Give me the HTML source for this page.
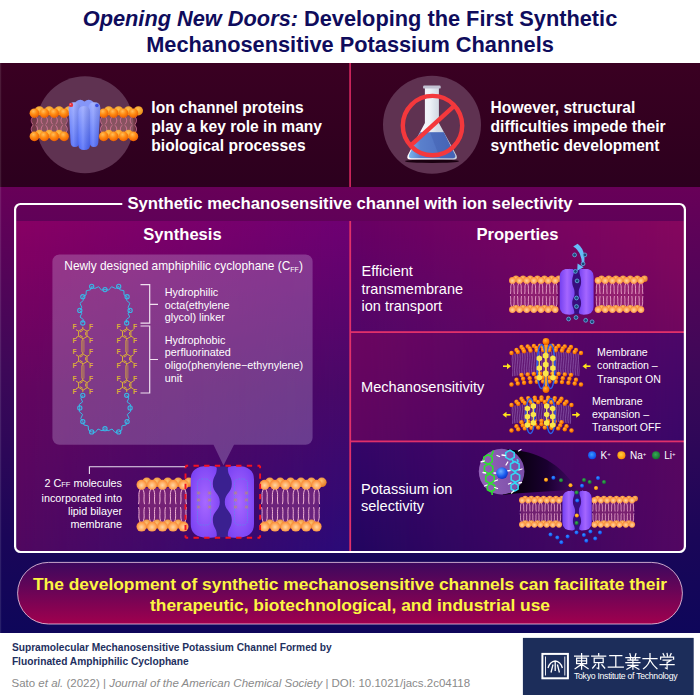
<!DOCTYPE html>
<html><head><meta charset="utf-8"><style>
*{margin:0;padding:0;box-sizing:border-box}
html,body{width:700px;height:700px;overflow:hidden;background:#fff}
body{position:relative;font-family:"Liberation Sans",sans-serif}
svg.bg{position:absolute;left:0;top:0}
.t{position:absolute;white-space:nowrap;color:#fff}
.title{left:0;width:700px;text-align:center;color:#0f0c5c;font-weight:bold;font-size:21.78px;}
.b{font-weight:bold}
</style></head><body>
<svg class="bg" width="700" height="700" viewBox="0 0 700 700">
<defs>
<radialGradient id="hg" cx="0.5" cy="0.55" r="0.65">
 <stop offset="0" stop-color="#ffd6a4"/><stop offset="0.55" stop-color="#ffa658"/><stop offset="1" stop-color="#f67a22"/></radialGradient>
<radialGradient id="hb" cx="0.45" cy="0.35" r="0.7">
 <stop offset="0" stop-color="#ffc070"/><stop offset="1" stop-color="#e07018"/></radialGradient>
<radialGradient id="hgT" cx="0.4" cy="0.3" r="0.75">
 <stop offset="0" stop-color="#ffbe5a"/><stop offset="0.45" stop-color="#ff8c14"/><stop offset="1" stop-color="#e85800"/></radialGradient>
<radialGradient id="hbT" cx="0.45" cy="0.35" r="0.7">
 <stop offset="0" stop-color="#ffc050"/><stop offset="1" stop-color="#e88a10"/></radialGradient>
<radialGradient id="hg2" cx="0.4" cy="0.35" r="0.7">
 <stop offset="0" stop-color="#ffb040"/><stop offset="0.6" stop-color="#ff7a00"/><stop offset="1" stop-color="#e05a00"/></radialGradient>
<linearGradient id="bgmid" x1="0" y1="0" x2="0" y2="1">
 <stop offset="0" stop-color="#680058"/><stop offset="0.4" stop-color="#3e0858"/><stop offset="0.79" stop-color="#1a0658"/><stop offset="1" stop-color="#0e065a"/></linearGradient>
<linearGradient id="pl" x1="0" y1="0" x2="1" y2="1">
 <stop offset="0" stop-color="#8e006a"/><stop offset="0.5" stop-color="#6a0a78"/><stop offset="1" stop-color="#3a0a88"/></linearGradient>
<linearGradient id="pr1" x1="0" y1="1" x2="1" y2="0">
 <stop offset="0" stop-color="#5a0a7a"/><stop offset="1" stop-color="#920a5e"/></linearGradient>
<linearGradient id="pr2" x1="0" y1="1" x2="1" y2="0">
 <stop offset="0" stop-color="#3e0a80"/><stop offset="1" stop-color="#6a0a70"/></linearGradient>
<linearGradient id="pr3" x1="0" y1="1" x2="1" y2="0">
 <stop offset="0" stop-color="#300a80"/><stop offset="1" stop-color="#760a62"/></linearGradient>
<linearGradient id="pill" x1="0" y1="0" x2="0" y2="1">
 <stop offset="0" stop-color="#3c085e"/><stop offset="1" stop-color="#a0004e"/></linearGradient>
<linearGradient id="chan" x1="0" y1="0" x2="1" y2="0">
 <stop offset="0" stop-color="#6a3af0"/><stop offset="0.5" stop-color="#8a55ff"/><stop offset="1" stop-color="#6a3af0"/></linearGradient>
<linearGradient id="prot" x1="0" y1="0" x2="0" y2="1">
 <stop offset="0" stop-color="#9aa8ff"/><stop offset="0.6" stop-color="#5a6cf8"/><stop offset="1" stop-color="#4a5af0"/></linearGradient>
</defs>
<linearGradient id="dk" x1="0" y1="0" x2="0" y2="1"><stop offset="0" stop-color="#3a0022"/><stop offset="1" stop-color="#2c001e"/></linearGradient><rect x="0" y="63" width="700" height="124" fill="url(#dk)"/>
<rect x="349.2" y="63" width="1.8" height="124" fill="#c8245a"/>
<rect x="0" y="187" width="700" height="446" fill="url(#bgmid)"/>
<defs><linearGradient id="h01" x1="0" y1="0" x2="1" y2="0"><stop offset="0" stop-color="#000"/><stop offset="1" stop-color="#fff"/></linearGradient><mask id="mx" maskContentUnits="objectBoundingBox"><rect width="1" height="1" fill="url(#h01)"/></mask></defs>
<defs><linearGradient id="bl1" x1="0" y1="0" x2="0" y2="1"><stop offset="0.000" stop-color="#880064"/><stop offset="0.500" stop-color="#640660"/><stop offset="1.000" stop-color="#500860"/></linearGradient><linearGradient id="br1" x1="0" y1="0" x2="0" y2="1"><stop offset="0.000" stop-color="#6e0072"/><stop offset="0.500" stop-color="#480868"/><stop offset="1.000" stop-color="#2a0a78"/></linearGradient></defs>
<rect x="16.3" y="221" width="333" height="330" fill="url(#bl1)"/>
<rect x="16.3" y="221" width="333" height="330" fill="url(#br1)" mask="url(#mx)"/>
<defs><linearGradient id="bl2" x1="0" y1="0" x2="0" y2="1"><stop offset="0.000" stop-color="#680064"/><stop offset="1.000" stop-color="#520668"/></linearGradient><linearGradient id="br2" x1="0" y1="0" x2="0" y2="1"><stop offset="0.000" stop-color="#86065e"/><stop offset="1.000" stop-color="#70065e"/></linearGradient></defs>
<rect x="351" y="221" width="333" height="111" fill="url(#bl2)"/>
<rect x="351" y="221" width="333" height="111" fill="url(#br2)" mask="url(#mx)"/>
<defs><linearGradient id="bl3" x1="0" y1="0" x2="0" y2="1"><stop offset="0.000" stop-color="#6c0660"/><stop offset="1.000" stop-color="#5e0660"/></linearGradient><linearGradient id="br3" x1="0" y1="0" x2="0" y2="1"><stop offset="0.000" stop-color="#4c0668"/><stop offset="1.000" stop-color="#3a0668"/></linearGradient></defs>
<rect x="351" y="333" width="333" height="108" fill="url(#bl3)"/>
<rect x="351" y="333" width="333" height="108" fill="url(#br3)" mask="url(#mx)"/>
<defs><linearGradient id="bl4" x1="0" y1="0" x2="0" y2="1"><stop offset="0.000" stop-color="#340668"/><stop offset="1.000" stop-color="#220660"/></linearGradient><linearGradient id="br4" x1="0" y1="0" x2="0" y2="1"><stop offset="0.000" stop-color="#580660"/><stop offset="1.000" stop-color="#520662"/></linearGradient></defs>
<rect x="351" y="442" width="333" height="109" fill="url(#bl4)"/>
<rect x="351" y="442" width="333" height="109" fill="url(#br4)" mask="url(#mx)"/>
<rect x="349.3" y="221" width="1.8" height="330" fill="#e0306a"/>
<rect x="351" y="331.2" width="333" height="1.8" fill="#e0306a"/>
<rect x="351" y="440.5" width="333" height="1.8" fill="#e0306a"/>
<path d="M122.3 204H20.6A5.5 5.5 0 0 0 15.1 209.5V546.5A5.5 5.5 0 0 0 20.6 552H679.4A5.5 5.5 0 0 0 684.9 546.5V209.5A5.5 5.5 0 0 0 679.4 204H578.6" fill="none" stroke="#fff" stroke-width="2.2"/>
<rect x="17.6" y="562.4" width="664.8" height="61.6" rx="30.8" fill="url(#pill)" stroke="rgba(255,220,240,0.75)" stroke-width="1"/>
<circle cx="85" cy="124.8" r="48.5" fill="#5f3251"/>
<rect x="32" y="116.1" width="34.5" height="17.4" fill="rgba(185,125,115,0.45)"/>
<rect x="101.3" y="116.1" width="34.5" height="17.4" fill="rgba(185,125,115,0.45)"/>
<path d="M33 116.6C30.7 118.9 30.7 122 33 124.3M35.8 116.6C38.1 118.9 38.1 122 35.8 124.3M33 125.3C30.7 127.6 30.7 130.7 33 133M35.8 125.3C38.1 127.6 38.1 130.7 35.8 133M42.9 116.6C40.6 118.9 40.6 122 42.9 124.3M45.7 116.6C48 118.9 48 122 45.7 124.3M42.9 125.3C40.6 127.6 40.6 130.7 42.9 133M45.7 125.3C48 127.6 48 130.7 45.7 133M52.8 116.6C50.5 118.9 50.5 122 52.8 124.3M55.6 116.6C57.9 118.9 57.9 122 55.6 124.3M52.8 125.3C50.5 127.6 50.5 130.7 52.8 133M55.6 125.3C57.9 127.6 57.9 130.7 55.6 133M62.7 116.6C60.4 118.9 60.4 122 62.7 124.3M65.5 116.6C67.8 118.9 67.8 122 65.5 124.3M62.7 125.3C60.4 127.6 60.4 130.7 62.7 133M65.5 125.3C67.8 127.6 67.8 130.7 65.5 133M102.3 116.6C100 118.9 100 122 102.3 124.3M105.1 116.6C107.4 118.9 107.4 122 105.1 124.3M102.3 125.3C100 127.6 100 130.7 102.3 133M105.1 125.3C107.4 127.6 107.4 130.7 105.1 133M112.2 116.6C109.9 118.9 109.9 122 112.2 124.3M115 116.6C117.3 118.9 117.3 122 115 124.3M112.2 125.3C109.9 127.6 109.9 130.7 112.2 133M115 125.3C117.3 127.6 117.3 130.7 115 133M122.1 116.6C119.8 118.9 119.8 122 122.1 124.3M124.9 116.6C127.2 118.9 127.2 122 124.9 124.3M122.1 125.3C119.8 127.6 119.8 130.7 122.1 133M124.9 125.3C127.2 127.6 127.2 130.7 124.9 133M132 116.6C129.7 118.9 129.7 122 132 124.3M134.8 116.6C137.1 118.9 137.1 122 134.8 124.3M132 125.3C129.7 127.6 129.7 130.7 132 133M134.8 125.3C137.1 127.6 137.1 130.7 134.8 133" fill="none" stroke="#e07aa0" stroke-width="0.85" opacity="0.95"/>
<circle cx="39.4" cy="110.8" r="4.6" fill="url(#hbT)"/>
<circle cx="49.2" cy="110.8" r="4.6" fill="url(#hbT)"/>
<circle cx="59.1" cy="110.8" r="4.6" fill="url(#hbT)"/>
<circle cx="69" cy="110.8" r="4.6" fill="url(#hbT)"/>
<circle cx="108.7" cy="110.8" r="4.6" fill="url(#hbT)"/>
<circle cx="118.6" cy="110.8" r="4.6" fill="url(#hbT)"/>
<circle cx="128.5" cy="110.8" r="4.6" fill="url(#hbT)"/>
<circle cx="138.4" cy="110.8" r="4.6" fill="url(#hbT)"/>
<circle cx="39.4" cy="134" r="4.3" fill="url(#hbT)"/>
<circle cx="49.2" cy="134" r="4.3" fill="url(#hbT)"/>
<circle cx="59.1" cy="134" r="4.3" fill="url(#hbT)"/>
<circle cx="108.7" cy="134" r="4.3" fill="url(#hbT)"/>
<circle cx="118.6" cy="134" r="4.3" fill="url(#hbT)"/>
<circle cx="128.5" cy="134" r="4.3" fill="url(#hbT)"/>
<circle cx="34.4" cy="113.2" r="4.8" fill="url(#hgT)"/>
<circle cx="44.3" cy="113.2" r="4.8" fill="url(#hgT)"/>
<circle cx="54.2" cy="113.2" r="4.8" fill="url(#hgT)"/>
<circle cx="64.1" cy="113.2" r="4.8" fill="url(#hgT)"/>
<circle cx="103.7" cy="113.2" r="4.8" fill="url(#hgT)"/>
<circle cx="113.6" cy="113.2" r="4.8" fill="url(#hgT)"/>
<circle cx="123.5" cy="113.2" r="4.8" fill="url(#hgT)"/>
<circle cx="133.4" cy="113.2" r="4.8" fill="url(#hgT)"/>
<circle cx="34.4" cy="136.4" r="4.8" fill="url(#hgT)"/>
<circle cx="44.3" cy="136.4" r="4.8" fill="url(#hgT)"/>
<circle cx="54.2" cy="136.4" r="4.8" fill="url(#hgT)"/>
<circle cx="64.1" cy="136.4" r="4.8" fill="url(#hgT)"/>
<circle cx="103.7" cy="136.4" r="4.8" fill="url(#hgT)"/>
<circle cx="113.6" cy="136.4" r="4.8" fill="url(#hgT)"/>
<circle cx="123.5" cy="136.4" r="4.8" fill="url(#hgT)"/>
<circle cx="133.4" cy="136.4" r="4.8" fill="url(#hgT)"/>
<defs><linearGradient id="pv" x1="0" y1="0" x2="0" y2="1"><stop offset="0" stop-color="#94a4ff"/><stop offset="0.55" stop-color="#6a82fb"/><stop offset="1" stop-color="#4a66f8"/></linearGradient><linearGradient id="ph" x1="0" y1="0" x2="1" y2="0"><stop offset="0" stop-color="#ffffff" stop-opacity="0"/><stop offset="0.4" stop-color="#ffffff" stop-opacity="0.18"/><stop offset="1" stop-color="#000040" stop-opacity="0.12"/></linearGradient></defs>
<rect x="74.5" y="99.8" width="11.5" height="40" rx="5.7" fill="#8596f8"/>
<rect x="83" y="99.8" width="11.5" height="40" rx="5.7" fill="#8596f8"/>
<path d="M68.6 108Q68.6 102.3 74.5 102.3Q80.5 102.3 80.5 108L79.2 142.5Q79 147 74.9 147Q71 147 70.6 142.5Z" fill="url(#pv)"/>
<path d="M68.6 108Q68.6 102.3 74.5 102.3Q80.5 102.3 80.5 108L79.2 142.5Q79 147 74.9 147Q71 147 70.6 142.5Z" fill="url(#ph)"/>
<path d="M100.3 108Q100.3 102.3 94.4 102.3Q88.4 102.3 88.4 108L89.7 142.5Q89.9 147 94 147Q97.9 147 98.3 142.5Z" fill="url(#pv)"/>
<path d="M100.3 108Q100.3 102.3 94.4 102.3Q88.4 102.3 88.4 108L89.7 142.5Q89.9 147 94 147Q97.9 147 98.3 142.5Z" fill="url(#ph)"/>
<path d="M78.3 112Q78.3 106 84.2 106Q90.1 106 90.1 112L90.1 144.5Q90.1 150 84.2 150Q78.3 150 78.3 144.5Z" fill="url(#pv)"/>
<path d="M78.3 112Q78.3 106 84.2 106Q90.1 106 90.1 112L90.1 144.5Q90.1 150 84.2 150Q78.3 150 78.3 144.5Z" fill="url(#ph)"/>
<circle cx="71" cy="104.9" r="2.2" fill="#e8343c"/><circle cx="70.4" cy="104.3" r="0.8" fill="#ff8a8a"/>
<circle cx="96.9" cy="105.5" r="1.8" fill="#3a4ce0"/>
<circle cx="432" cy="124.8" r="49" fill="#5f3251"/>
<ellipse cx="432" cy="161.2" rx="27" ry="1.8" fill="#1a0010"/>
<defs><linearGradient id="glass" x1="0" y1="0" x2="1" y2="0"><stop offset="0" stop-color="#ffffff"/><stop offset="0.45" stop-color="#eef2f8"/><stop offset="0.6" stop-color="#d6dce6"/><stop offset="1" stop-color="#c4ccd8"/></linearGradient><linearGradient id="liq" x1="0" y1="0" x2="1" y2="0"><stop offset="0" stop-color="#7ab4ee"/><stop offset="0.25" stop-color="#5a80cc"/><stop offset="1" stop-color="#4a68bc"/></linearGradient></defs>
<path d="M424.9 88H438.9V123L456.6 155.5Q458 159.6 453.8 159.6H410.4Q406.2 159.6 407.6 155.5L424.9 123Z" fill="url(#glass)"/>
<path d="M420 132.2H443.8L455 154.8Q456.2 158.2 452.8 158.2H411.4Q408 158.2 409.2 154.8Z" fill="url(#liq)"/>
<path d="M430 132.2H443.8L455 154.8Q456.2 158.2 452.8 158.2H440Z" fill="#3c58a8" opacity="0.35"/>
<rect x="423.1" y="85.6" width="17.6" height="3" rx="1.2" fill="#c2c2d2"/>
<circle cx="432.5" cy="125.6" r="29.7" fill="none" stroke="#f4383c" stroke-width="4.4"/>
<line x1="454.5" y1="105.6" x2="410.5" y2="145.6" stroke="#f4383c" stroke-width="4.4"/>
<rect x="0" y="63" width="1.2" height="570" fill="#ffffff" opacity="0.1"/>
<path d="M59.4 254.5H305.6A7 7 0 0 1 312.6 261.5V437.8A7 7 0 0 1 305.6 444.8H234L223.5 465.5L213.5 444.8H59.4A7 7 0 0 1 52.4 437.8V261.5A7 7 0 0 1 59.4 254.5Z" fill="rgba(232,222,255,0.245)"/>
<path d="M140.5 284.6H149.7V323.2H140.5M149.7 304.3H158" fill="none" stroke="#f0e0f0" stroke-width="1.2"/>
<path d="M140.5 326H149.7V393H140.5M149.7 359.5H158" fill="none" stroke="#f0e0f0" stroke-width="1.2"/>
<path d="M82.8 323L83.3 319.5L80 317L81.8 313.2L79.8 310.4M79.8 310.4L81.8 307.3L80 303.3L83.3 300.4L82.8 296.7M82.8 296.7L86 295L86.3 290.7L90.5 289.8L91.7 286.4M91.7 286.4L94.7 288.5L98.7 286.7L101.4 290.1L105 289.6M105 289.6L108.7 290.1L111.6 286.7L115.6 288.5L118.7 286.4M118.7 286.4L119.8 289.8L123.9 290.7L124 294.9L127.1 296.7M127.1 296.7L126.6 300.4L129.9 303.3L128.1 307.3L130.1 310.4M130.1 310.4L128 313.2L129.7 317L126.3 319.5L126.7 323" fill="none" stroke="#38b8e8" stroke-width="1" stroke-linejoin="round"/>
<circle cx="82.8" cy="323" r="2.1" fill="none" stroke="#38b8e8" stroke-width="1.1"/>
<circle cx="79.8" cy="310.4" r="2.1" fill="none" stroke="#38b8e8" stroke-width="1.1"/>
<circle cx="82.8" cy="296.7" r="2.1" fill="none" stroke="#38b8e8" stroke-width="1.1"/>
<circle cx="91.7" cy="286.4" r="2.1" fill="none" stroke="#38b8e8" stroke-width="1.1"/>
<circle cx="105" cy="289.6" r="2.1" fill="none" stroke="#38b8e8" stroke-width="1.1"/>
<circle cx="118.7" cy="286.4" r="2.1" fill="none" stroke="#38b8e8" stroke-width="1.1"/>
<circle cx="127.1" cy="296.7" r="2.1" fill="none" stroke="#38b8e8" stroke-width="1.1"/>
<circle cx="130.1" cy="310.4" r="2.1" fill="none" stroke="#38b8e8" stroke-width="1.1"/>
<circle cx="126.7" cy="323" r="2.1" fill="none" stroke="#38b8e8" stroke-width="1.1"/>
<path d="M82.8 395.3L80.8 398.1L82.6 401.9L79.3 404.4L79.8 407.9M79.8 407.9L79.3 411.6L82.6 414.5L80.8 418.5L82.8 421.6M82.8 421.6L84 425L88.2 425.9L88.5 430.2L91.7 431.9M91.7 431.9L95.3 432.4L98 429L102 430.8L105 428.7M105 428.7L108.1 430.8L112.1 429L115 432.4L118.7 431.9M118.7 431.9L121.8 430.1L121.9 425.9L126 425L127.1 421.6M127.1 421.6L129.1 418.5L127.3 414.5L130.6 411.6L130.1 407.9M130.1 407.9L130.5 404.4L127.1 401.9L128.8 398.1L126.7 395.3" fill="none" stroke="#38b8e8" stroke-width="1" stroke-linejoin="round"/>
<circle cx="82.8" cy="395.3" r="2.1" fill="none" stroke="#38b8e8" stroke-width="1.1"/>
<circle cx="79.8" cy="407.9" r="2.1" fill="none" stroke="#38b8e8" stroke-width="1.1"/>
<circle cx="82.8" cy="421.6" r="2.1" fill="none" stroke="#38b8e8" stroke-width="1.1"/>
<circle cx="91.7" cy="431.9" r="2.1" fill="none" stroke="#38b8e8" stroke-width="1.1"/>
<circle cx="105" cy="428.7" r="2.1" fill="none" stroke="#38b8e8" stroke-width="1.1"/>
<circle cx="118.7" cy="431.9" r="2.1" fill="none" stroke="#38b8e8" stroke-width="1.1"/>
<circle cx="127.1" cy="421.6" r="2.1" fill="none" stroke="#38b8e8" stroke-width="1.1"/>
<circle cx="130.1" cy="407.9" r="2.1" fill="none" stroke="#38b8e8" stroke-width="1.1"/>
<circle cx="126.7" cy="395.3" r="2.1" fill="none" stroke="#38b8e8" stroke-width="1.1"/>
<path d="M82.8 338.6L78.6 336.1L78.6 331.2L82.8 328.8L87 331.2L87 336.1ZM82.4 336.8L80.3 335.6M80.3 331.8L82.4 330.6M85.7 332.5L85.7 334.9M78.6 331.2L76.3 329.9M78.6 336.1L76.3 337.5M87 331.2L89.3 329.9M87 336.1L89.3 337.5M82.8 328.8L82.8 327.2M82.8 338.6L82.8 340.2M82.8 363.7L78.6 361.2L78.6 356.4L82.8 353.9L87 356.4L87 361.2ZM82.4 361.9L80.3 360.7M80.3 356.9L82.4 355.7M85.7 357.6L85.7 360M78.6 356.4L76.3 355M78.6 361.2L76.3 362.6M87 356.4L89.3 355M87 361.2L89.3 362.6M82.8 353.9L82.8 352.3M82.8 363.7L82.8 365.3M82.8 389.9L78.6 387.4L78.6 382.6L82.8 380.1L87 382.6L87 387.4ZM82.4 388.1L80.3 386.9M80.3 383.1L82.4 381.9M85.7 383.8L85.7 386.2M78.6 382.6L76.3 381.2M78.6 387.4L76.3 388.8M87 382.6L89.3 381.2M87 387.4L89.3 388.8M82.8 380.1L82.8 378.5M82.8 389.9L82.8 391.5" fill="none" stroke="#dcb036" stroke-width="1.0" stroke-linecap="round"/>
<path d="M81.6 340.2L81.6 352.3M82.8 340.2L82.8 352.3M84 340.2L84 352.3M81.6 365.3L81.6 378.5M82.8 365.3L82.8 378.5M84 365.3L84 378.5" fill="none" stroke="#dcb036" stroke-width="0.55"/>
<text x="74.5" y="329.3" font-size="6.6" font-weight="bold" fill="#dcb036" text-anchor="middle">F</text>
<text x="74.5" y="342.9" font-size="6.6" font-weight="bold" fill="#dcb036" text-anchor="middle">F</text>
<text x="91.1" y="329.3" font-size="6.6" font-weight="bold" fill="#dcb036" text-anchor="middle">F</text>
<text x="91.1" y="342.9" font-size="6.6" font-weight="bold" fill="#dcb036" text-anchor="middle">F</text>
<text x="74.5" y="354.4" font-size="6.6" font-weight="bold" fill="#dcb036" text-anchor="middle">F</text>
<text x="74.5" y="368" font-size="6.6" font-weight="bold" fill="#dcb036" text-anchor="middle">F</text>
<text x="91.1" y="354.4" font-size="6.6" font-weight="bold" fill="#dcb036" text-anchor="middle">F</text>
<text x="91.1" y="368" font-size="6.6" font-weight="bold" fill="#dcb036" text-anchor="middle">F</text>
<text x="74.5" y="380.6" font-size="6.6" font-weight="bold" fill="#dcb036" text-anchor="middle">F</text>
<text x="74.5" y="394.2" font-size="6.6" font-weight="bold" fill="#dcb036" text-anchor="middle">F</text>
<text x="91.1" y="380.6" font-size="6.6" font-weight="bold" fill="#dcb036" text-anchor="middle">F</text>
<text x="91.1" y="394.2" font-size="6.6" font-weight="bold" fill="#dcb036" text-anchor="middle">F</text>
<path d="M126.7 338.6L122.5 336.1L122.5 331.2L126.7 328.8L130.9 331.2L130.9 336.1ZM126.3 336.8L124.2 335.6M124.2 331.8L126.3 330.6M129.6 332.5L129.6 334.9M122.5 331.2L120.2 329.9M122.5 336.1L120.2 337.5M130.9 331.2L133.2 329.9M130.9 336.1L133.2 337.5M126.7 328.8L126.7 327.2M126.7 338.6L126.7 340.2M126.7 363.7L122.5 361.2L122.5 356.4L126.7 353.9L130.9 356.4L130.9 361.2ZM126.3 361.9L124.2 360.7M124.2 356.9L126.3 355.7M129.6 357.6L129.6 360M122.5 356.4L120.2 355M122.5 361.2L120.2 362.6M130.9 356.4L133.2 355M130.9 361.2L133.2 362.6M126.7 353.9L126.7 352.3M126.7 363.7L126.7 365.3M126.7 389.9L122.5 387.4L122.5 382.6L126.7 380.1L130.9 382.6L130.9 387.4ZM126.3 388.1L124.2 386.9M124.2 383.1L126.3 381.9M129.6 383.8L129.6 386.2M122.5 382.6L120.2 381.2M122.5 387.4L120.2 388.8M130.9 382.6L133.2 381.2M130.9 387.4L133.2 388.8M126.7 380.1L126.7 378.5M126.7 389.9L126.7 391.5" fill="none" stroke="#dcb036" stroke-width="1.0" stroke-linecap="round"/>
<path d="M125.5 340.2L125.5 352.3M126.7 340.2L126.7 352.3M127.9 340.2L127.9 352.3M125.5 365.3L125.5 378.5M126.7 365.3L126.7 378.5M127.9 365.3L127.9 378.5" fill="none" stroke="#dcb036" stroke-width="0.55"/>
<text x="118.4" y="329.3" font-size="6.6" font-weight="bold" fill="#dcb036" text-anchor="middle">F</text>
<text x="118.4" y="342.9" font-size="6.6" font-weight="bold" fill="#dcb036" text-anchor="middle">F</text>
<text x="135" y="329.3" font-size="6.6" font-weight="bold" fill="#dcb036" text-anchor="middle">F</text>
<text x="135" y="342.9" font-size="6.6" font-weight="bold" fill="#dcb036" text-anchor="middle">F</text>
<text x="118.4" y="354.4" font-size="6.6" font-weight="bold" fill="#dcb036" text-anchor="middle">F</text>
<text x="118.4" y="368" font-size="6.6" font-weight="bold" fill="#dcb036" text-anchor="middle">F</text>
<text x="135" y="354.4" font-size="6.6" font-weight="bold" fill="#dcb036" text-anchor="middle">F</text>
<text x="135" y="368" font-size="6.6" font-weight="bold" fill="#dcb036" text-anchor="middle">F</text>
<text x="118.4" y="380.6" font-size="6.6" font-weight="bold" fill="#dcb036" text-anchor="middle">F</text>
<text x="118.4" y="394.2" font-size="6.6" font-weight="bold" fill="#dcb036" text-anchor="middle">F</text>
<text x="135" y="380.6" font-size="6.6" font-weight="bold" fill="#dcb036" text-anchor="middle">F</text>
<text x="135" y="394.2" font-size="6.6" font-weight="bold" fill="#dcb036" text-anchor="middle">F</text>
<defs><radialGradient id="cg" cx="0.5" cy="0.5" r="0.6"><stop offset="0" stop-color="#a868ff"/><stop offset="1" stop-color="#7a42f4"/></radialGradient><linearGradient id="cg2" x1="0" y1="0" x2="1" y2="0"><stop offset="0" stop-color="#7440f0"/><stop offset="0.5" stop-color="#a466ff"/><stop offset="1" stop-color="#7846f2"/></linearGradient><radialGradient id="kb" cx="0.4" cy="0.35" r="0.7"><stop offset="0" stop-color="#70b0ff"/><stop offset="0.6" stop-color="#1a5cf0"/><stop offset="1" stop-color="#0a30c0"/></radialGradient><linearGradient id="cone" x1="0" y1="0" x2="1" y2="0"><stop offset="0" stop-color="#000000"/><stop offset="0.6" stop-color="#1a0030"/><stop offset="1" stop-color="#3a0a60" stop-opacity="0.6"/></linearGradient></defs>
<rect x="139" y="487.8" width="47" height="35.8" fill="rgba(225,95,150,0.3)"/>
<path d="M140.4 488.8C137.4 494.2 140 498 138.5 504.2M140.4 522.6C137.4 517.2 140 513.4 138.5 507.2M142.6 488.8C145.6 494.2 143 498 144.5 504.2M142.6 522.6C145.6 517.2 143 513.4 144.5 507.2M150.9 488.8C147.9 494.2 150.5 498 149 504.2M150.9 522.6C147.9 517.2 150.5 513.4 149 507.2M153.1 488.8C156.1 494.2 153.5 498 155 504.2M153.1 522.6C156.1 517.2 153.5 513.4 155 507.2M161.4 488.8C158.4 494.2 161 498 159.5 504.2M161.4 522.6C158.4 517.2 161 513.4 159.5 507.2M163.6 488.8C166.6 494.2 164 498 165.5 504.2M163.6 522.6C166.6 517.2 164 513.4 165.5 507.2M171.9 488.8C168.9 494.2 171.5 498 170 504.2M171.9 522.6C168.9 517.2 171.5 513.4 170 507.2M174.1 488.8C177.1 494.2 174.5 498 176 504.2M174.1 522.6C177.1 517.2 174.5 513.4 176 507.2M182.4 488.8C179.4 494.2 182 498 180.5 504.2M182.4 522.6C179.4 517.2 182 513.4 180.5 507.2M184.6 488.8C187.6 494.2 185 498 186.5 504.2M184.6 522.6C187.6 517.2 185 513.4 186.5 507.2" fill="none" stroke="#f8bcd8" stroke-width="1.0" opacity="0.95"/>
<circle cx="146.8" cy="482.3" r="4.8" fill="url(#hb)"/>
<circle cx="157.2" cy="482.3" r="4.8" fill="url(#hb)"/>
<circle cx="167.8" cy="482.3" r="4.8" fill="url(#hb)"/>
<circle cx="178.2" cy="482.3" r="4.8" fill="url(#hb)"/>
<circle cx="188.8" cy="482.3" r="4.8" fill="url(#hb)"/>
<circle cx="146.8" cy="524.1" r="4.5" fill="url(#hb)"/>
<circle cx="157.2" cy="524.1" r="4.5" fill="url(#hb)"/>
<circle cx="167.8" cy="524.1" r="4.5" fill="url(#hb)"/>
<circle cx="178.2" cy="524.1" r="4.5" fill="url(#hb)"/>
<circle cx="141.5" cy="484.8" r="5" fill="url(#hg)"/>
<circle cx="152" cy="484.8" r="5" fill="url(#hg)"/>
<circle cx="162.5" cy="484.8" r="5" fill="url(#hg)"/>
<circle cx="173" cy="484.8" r="5" fill="url(#hg)"/>
<circle cx="183.5" cy="484.8" r="5" fill="url(#hg)"/>
<circle cx="141.5" cy="526.6" r="5" fill="url(#hg)"/>
<circle cx="152" cy="526.6" r="5" fill="url(#hg)"/>
<circle cx="162.5" cy="526.6" r="5" fill="url(#hg)"/>
<circle cx="173" cy="526.6" r="5" fill="url(#hg)"/>
<circle cx="183.5" cy="526.6" r="5" fill="url(#hg)"/>
<rect x="262.1" y="487.8" width="57" height="35.8" fill="rgba(225,95,150,0.3)"/>
<path d="M263.5 488.8C260.5 494.2 263.1 498 261.6 504.2M263.5 522.6C260.5 517.2 263.1 513.4 261.6 507.2M265.7 488.8C268.7 494.2 266.1 498 267.6 504.2M265.7 522.6C268.7 517.2 266.1 513.4 267.6 507.2M273.9 488.8C270.9 494.2 273.5 498 272 504.2M273.9 522.6C270.9 517.2 273.5 513.4 272 507.2M276.1 488.8C279.1 494.2 276.5 498 278 504.2M276.1 522.6C279.1 517.2 276.5 513.4 278 507.2M284.3 488.8C281.3 494.2 283.9 498 282.4 504.2M284.3 522.6C281.3 517.2 283.9 513.4 282.4 507.2M286.5 488.8C289.5 494.2 286.9 498 288.4 504.2M286.5 522.6C289.5 517.2 286.9 513.4 288.4 507.2M294.7 488.8C291.7 494.2 294.3 498 292.8 504.2M294.7 522.6C291.7 517.2 294.3 513.4 292.8 507.2M296.9 488.8C299.9 494.2 297.3 498 298.8 504.2M296.9 522.6C299.9 517.2 297.3 513.4 298.8 507.2M305.1 488.8C302.1 494.2 304.7 498 303.2 504.2M305.1 522.6C302.1 517.2 304.7 513.4 303.2 507.2M307.3 488.8C310.3 494.2 307.7 498 309.2 504.2M307.3 522.6C310.3 517.2 307.7 513.4 309.2 507.2M315.5 488.8C312.5 494.2 315.1 498 313.6 504.2M315.5 522.6C312.5 517.2 315.1 513.4 313.6 507.2M317.7 488.8C320.7 494.2 318.1 498 319.6 504.2M317.7 522.6C320.7 517.2 318.1 513.4 319.6 507.2" fill="none" stroke="#f8bcd8" stroke-width="1.0" opacity="0.95"/>
<circle cx="269.8" cy="482.3" r="4.8" fill="url(#hb)"/>
<circle cx="280.2" cy="482.3" r="4.8" fill="url(#hb)"/>
<circle cx="290.6" cy="482.3" r="4.8" fill="url(#hb)"/>
<circle cx="301" cy="482.3" r="4.8" fill="url(#hb)"/>
<circle cx="311.4" cy="482.3" r="4.8" fill="url(#hb)"/>
<circle cx="321.8" cy="482.3" r="4.8" fill="url(#hb)"/>
<circle cx="269.8" cy="524.1" r="4.5" fill="url(#hb)"/>
<circle cx="280.2" cy="524.1" r="4.5" fill="url(#hb)"/>
<circle cx="290.6" cy="524.1" r="4.5" fill="url(#hb)"/>
<circle cx="301" cy="524.1" r="4.5" fill="url(#hb)"/>
<circle cx="311.4" cy="524.1" r="4.5" fill="url(#hb)"/>
<circle cx="264.6" cy="484.8" r="5" fill="url(#hg)"/>
<circle cx="275" cy="484.8" r="5" fill="url(#hg)"/>
<circle cx="285.4" cy="484.8" r="5" fill="url(#hg)"/>
<circle cx="295.8" cy="484.8" r="5" fill="url(#hg)"/>
<circle cx="306.2" cy="484.8" r="5" fill="url(#hg)"/>
<circle cx="316.6" cy="484.8" r="5" fill="url(#hg)"/>
<circle cx="264.6" cy="526.6" r="5" fill="url(#hg)"/>
<circle cx="275" cy="526.6" r="5" fill="url(#hg)"/>
<circle cx="285.4" cy="526.6" r="5" fill="url(#hg)"/>
<circle cx="295.8" cy="526.6" r="5" fill="url(#hg)"/>
<circle cx="306.2" cy="526.6" r="5" fill="url(#hg)"/>
<circle cx="316.6" cy="526.6" r="5" fill="url(#hg)"/>
<rect x="204.8" y="466.5" width="35.2" height="70.7" fill="#3a2090"/>
<path d="M190.7 479.6Q190.7 466 207.7 466L210 466Q216.8 466 216.8 468.2C216.8 476 212.8 476 212.8 483.9C212.8 492.9 219.8 492.9 219.8 501.9C219.8 510.8 212.8 510.8 212.8 519.8C212.8 527.7 216.8 527.7 216.8 535.5Q216.8 537.7 210 537.7L207.7 537.7Q190.7 537.7 190.7 524.1Z" fill="url(#cg)"/>
<path d="M254 479.6Q254 466 237 466L234.7 466Q227.8 466 227.8 468.2C227.8 476 231.8 476 231.8 483.9C231.8 492.9 224.8 492.9 224.8 501.9C224.8 510.8 231.8 510.8 231.8 519.8C231.8 527.7 227.8 527.7 227.8 535.5Q227.8 537.7 234.7 537.7L237 537.7Q254 537.7 254 524.1Z" fill="url(#cg)"/>
<rect x="197.5" y="479" width="13" height="46" rx="4" fill="none" stroke="#4a9ae8" stroke-width="0.7" stroke-dasharray="1.5 1" opacity="0.8"/>
<path d="M196.5 493L200.5 493M197.5 491.3L199.5 494.7M199.5 491.3L197.5 494.7" stroke="#c89848" stroke-width="0.6" opacity="0.8"/>
<path d="M196.5 500L200.5 500M197.5 498.3L199.5 501.7M199.5 498.3L197.5 501.7" stroke="#c89848" stroke-width="0.6" opacity="0.8"/>
<path d="M196.5 507L200.5 507M197.5 505.3L199.5 508.7M199.5 505.3L197.5 508.7" stroke="#c89848" stroke-width="0.6" opacity="0.8"/>
<path d="M207.5 493L211.5 493M208.5 491.3L210.5 494.7M210.5 491.3L208.5 494.7" stroke="#c89848" stroke-width="0.6" opacity="0.8"/>
<path d="M207.5 500L211.5 500M208.5 498.3L210.5 501.7M210.5 498.3L208.5 501.7" stroke="#c89848" stroke-width="0.6" opacity="0.8"/>
<path d="M207.5 507L211.5 507M208.5 505.3L210.5 508.7M210.5 505.3L208.5 508.7" stroke="#c89848" stroke-width="0.6" opacity="0.8"/>
<rect x="234.5" y="479" width="13" height="46" rx="4" fill="none" stroke="#4a9ae8" stroke-width="0.7" stroke-dasharray="1.5 1" opacity="0.8"/>
<path d="M233.5 493L237.5 493M234.5 491.3L236.5 494.7M236.5 491.3L234.5 494.7" stroke="#c89848" stroke-width="0.6" opacity="0.8"/>
<path d="M233.5 500L237.5 500M234.5 498.3L236.5 501.7M236.5 498.3L234.5 501.7" stroke="#c89848" stroke-width="0.6" opacity="0.8"/>
<path d="M233.5 507L237.5 507M234.5 505.3L236.5 508.7M236.5 505.3L234.5 508.7" stroke="#c89848" stroke-width="0.6" opacity="0.8"/>
<path d="M244.5 493L248.5 493M245.5 491.3L247.5 494.7M247.5 491.3L245.5 494.7" stroke="#c89848" stroke-width="0.6" opacity="0.8"/>
<path d="M244.5 500L248.5 500M245.5 498.3L247.5 501.7M247.5 498.3L245.5 501.7" stroke="#c89848" stroke-width="0.6" opacity="0.8"/>
<path d="M244.5 507L248.5 507M245.5 505.3L247.5 508.7M247.5 505.3L245.5 508.7" stroke="#c89848" stroke-width="0.6" opacity="0.8"/>
<path d="M185.5 465.8L260.1 465.8" stroke="#f41222" stroke-width="1.9" stroke-dasharray="5.33 5.33" stroke-dashoffset="2.66"/>
<path d="M185.5 537.7L260.1 537.7" stroke="#f41222" stroke-width="1.9" stroke-dasharray="5.33 5.33" stroke-dashoffset="2.66"/>
<path d="M185.5 465.8L185.5 537.7" stroke="#f41222" stroke-width="1.9" stroke-dasharray="5.14 5.14" stroke-dashoffset="2.57"/>
<path d="M260.1 465.8L260.1 537.7" stroke="#f41222" stroke-width="1.9" stroke-dasharray="5.14 5.14" stroke-dashoffset="2.57"/>
<path d="M89.4 474V466.7H185" fill="none" stroke="#e8e0f0" stroke-width="1.1"/>
<rect x="510.7" y="282.4" width="46.2" height="25.2" fill="rgba(225,95,150,0.3)"/>
<rect x="596.4" y="282.4" width="46.2" height="25.2" fill="rgba(225,95,150,0.3)"/>
<path d="M511.7 283.1C509.7 286.9 511.4 289.6 510.4 294M511.7 306.9C509.7 303.1 511.4 300.4 510.4 296M513.1 283.1C515.1 286.9 513.4 289.6 514.4 294M513.1 306.9C515.1 303.1 513.4 300.4 514.4 296M518.8 283.1C516.8 286.9 518.5 289.6 517.5 294M518.8 306.9C516.8 303.1 518.5 300.4 517.5 296M520.3 283.1C522.3 286.9 520.5 289.6 521.5 294M520.3 306.9C522.3 303.1 520.5 300.4 521.5 296M525.9 283.1C523.9 286.9 525.7 289.6 524.7 294M525.9 306.9C523.9 303.1 525.7 300.4 524.7 296M527.4 283.1C529.4 286.9 527.7 289.6 528.7 294M527.4 306.9C529.4 303.1 527.7 300.4 528.7 296M533.1 283.1C531.1 286.9 532.8 289.6 531.8 294M533.1 306.9C531.1 303.1 532.8 300.4 531.8 296M534.6 283.1C536.6 286.9 534.8 289.6 535.8 294M534.6 306.9C536.6 303.1 534.8 300.4 535.8 296M540.2 283.1C538.2 286.9 540 289.6 538.9 294M540.2 306.9C538.2 303.1 540 300.4 538.9 296M541.7 283.1C543.7 286.9 542 289.6 543 294M541.7 306.9C543.7 303.1 542 300.4 543 296M547.4 283.1C545.4 286.9 547.1 289.6 546.1 294M547.4 306.9C545.4 303.1 547.1 300.4 546.1 296M548.8 283.1C550.8 286.9 549.1 289.6 550.1 294M548.8 306.9C550.8 303.1 549.1 300.4 550.1 296M554.5 283.1C552.5 286.9 554.2 289.6 553.2 294M554.5 306.9C552.5 303.1 554.2 300.4 553.2 296M556 283.1C558 286.9 556.2 289.6 557.2 294M556 306.9C558 303.1 556.2 300.4 557.2 296M597.3 283.1C595.3 286.9 597.1 289.6 596.1 294M597.3 306.9C595.3 303.1 597.1 300.4 596.1 296M598.8 283.1C600.8 286.9 599.1 289.6 600.1 294M598.8 306.9C600.8 303.1 599.1 300.4 600.1 296M604.5 283.1C602.5 286.9 604.2 289.6 603.2 294M604.5 306.9C602.5 303.1 604.2 300.4 603.2 296M606 283.1C608 286.9 606.2 289.6 607.2 294M606 306.9C608 303.1 606.2 300.4 607.2 296M611.6 283.1C609.6 286.9 611.4 289.6 610.3 294M611.6 306.9C609.6 303.1 611.4 300.4 610.3 296M613.1 283.1C615.1 286.9 613.4 289.6 614.4 294M613.1 306.9C615.1 303.1 613.4 300.4 614.4 296M618.8 283.1C616.8 286.9 618.5 289.6 617.5 294M618.8 306.9C616.8 303.1 618.5 300.4 617.5 296M620.2 283.1C622.2 286.9 620.5 289.6 621.5 294M620.2 306.9C622.2 303.1 620.5 300.4 621.5 296M625.9 283.1C623.9 286.9 625.6 289.6 624.6 294M625.9 306.9C623.9 303.1 625.6 300.4 624.6 296M627.4 283.1C629.4 286.9 627.6 289.6 628.6 294M627.4 306.9C629.4 303.1 627.6 300.4 628.6 296M633 283.1C631 286.9 632.8 289.6 631.8 294M633 306.9C631 303.1 632.8 300.4 631.8 296M634.5 283.1C636.5 286.9 634.8 289.6 635.8 294M634.5 306.9C636.5 303.1 634.8 300.4 635.8 296M640.2 283.1C638.2 286.9 639.9 289.6 638.9 294M640.2 306.9C638.2 303.1 639.9 300.4 638.9 296M641.7 283.1C643.7 286.9 641.9 289.6 642.9 294M641.7 306.9C643.7 303.1 641.9 300.4 642.9 296" fill="none" stroke="#f8bcd8" stroke-width="0.8" opacity="0.95"/>
<circle cx="516" cy="278.7" r="3.2" fill="url(#hb)"/>
<circle cx="523.1" cy="278.7" r="3.2" fill="url(#hb)"/>
<circle cx="530.2" cy="278.7" r="3.2" fill="url(#hb)"/>
<circle cx="537.4" cy="278.7" r="3.2" fill="url(#hb)"/>
<circle cx="544.5" cy="278.7" r="3.2" fill="url(#hb)"/>
<circle cx="551.7" cy="278.7" r="3.2" fill="url(#hb)"/>
<circle cx="558.8" cy="278.7" r="3.2" fill="url(#hb)"/>
<circle cx="601.6" cy="278.7" r="3.2" fill="url(#hb)"/>
<circle cx="608.8" cy="278.7" r="3.2" fill="url(#hb)"/>
<circle cx="615.9" cy="278.7" r="3.2" fill="url(#hb)"/>
<circle cx="623.1" cy="278.7" r="3.2" fill="url(#hb)"/>
<circle cx="630.2" cy="278.7" r="3.2" fill="url(#hb)"/>
<circle cx="637.3" cy="278.7" r="3.2" fill="url(#hb)"/>
<circle cx="644.5" cy="278.7" r="3.2" fill="url(#hb)"/>
<circle cx="516" cy="307.9" r="3" fill="url(#hb)"/>
<circle cx="523.1" cy="307.9" r="3" fill="url(#hb)"/>
<circle cx="530.2" cy="307.9" r="3" fill="url(#hb)"/>
<circle cx="537.4" cy="307.9" r="3" fill="url(#hb)"/>
<circle cx="544.5" cy="307.9" r="3" fill="url(#hb)"/>
<circle cx="551.7" cy="307.9" r="3" fill="url(#hb)"/>
<circle cx="601.6" cy="307.9" r="3" fill="url(#hb)"/>
<circle cx="608.8" cy="307.9" r="3" fill="url(#hb)"/>
<circle cx="615.9" cy="307.9" r="3" fill="url(#hb)"/>
<circle cx="623.1" cy="307.9" r="3" fill="url(#hb)"/>
<circle cx="630.2" cy="307.9" r="3" fill="url(#hb)"/>
<circle cx="637.3" cy="307.9" r="3" fill="url(#hb)"/>
<circle cx="512.4" cy="280.4" r="3.4" fill="url(#hg)"/>
<circle cx="519.5" cy="280.4" r="3.4" fill="url(#hg)"/>
<circle cx="526.7" cy="280.4" r="3.4" fill="url(#hg)"/>
<circle cx="533.8" cy="280.4" r="3.4" fill="url(#hg)"/>
<circle cx="541" cy="280.4" r="3.4" fill="url(#hg)"/>
<circle cx="548.1" cy="280.4" r="3.4" fill="url(#hg)"/>
<circle cx="555.2" cy="280.4" r="3.4" fill="url(#hg)"/>
<circle cx="598.1" cy="280.4" r="3.4" fill="url(#hg)"/>
<circle cx="605.2" cy="280.4" r="3.4" fill="url(#hg)"/>
<circle cx="612.4" cy="280.4" r="3.4" fill="url(#hg)"/>
<circle cx="619.5" cy="280.4" r="3.4" fill="url(#hg)"/>
<circle cx="626.6" cy="280.4" r="3.4" fill="url(#hg)"/>
<circle cx="633.8" cy="280.4" r="3.4" fill="url(#hg)"/>
<circle cx="640.9" cy="280.4" r="3.4" fill="url(#hg)"/>
<circle cx="512.4" cy="309.6" r="3.4" fill="url(#hg)"/>
<circle cx="519.5" cy="309.6" r="3.4" fill="url(#hg)"/>
<circle cx="526.7" cy="309.6" r="3.4" fill="url(#hg)"/>
<circle cx="533.8" cy="309.6" r="3.4" fill="url(#hg)"/>
<circle cx="541" cy="309.6" r="3.4" fill="url(#hg)"/>
<circle cx="548.1" cy="309.6" r="3.4" fill="url(#hg)"/>
<circle cx="555.2" cy="309.6" r="3.4" fill="url(#hg)"/>
<circle cx="598.1" cy="309.6" r="3.4" fill="url(#hg)"/>
<circle cx="605.2" cy="309.6" r="3.4" fill="url(#hg)"/>
<circle cx="612.4" cy="309.6" r="3.4" fill="url(#hg)"/>
<circle cx="619.5" cy="309.6" r="3.4" fill="url(#hg)"/>
<circle cx="626.6" cy="309.6" r="3.4" fill="url(#hg)"/>
<circle cx="633.8" cy="309.6" r="3.4" fill="url(#hg)"/>
<circle cx="640.9" cy="309.6" r="3.4" fill="url(#hg)"/>
<rect x="566.3" y="268.9" width="20.8" height="45.3" fill="#380c7e"/>
<path d="M559.7 276.4Q559.7 268.4 569.7 268.4L569.4 268.4Q573.4 268.4 573.9 270.3C573.9 276 572.2 276 572.2 281.8C572.2 287.4 574.6 287.4 574.6 292.9C574.6 298 572.2 298 572.2 303.1C572.2 308.2 574.4 308.2 574.4 313.3Q573.4 314.7 569.4 314.7L569.7 314.7Q559.7 314.7 559.7 306.7Z" fill="url(#cg2)"/>
<path d="M593.6 276.4Q593.6 268.4 583.6 268.4L583.9 268.4Q579.9 268.4 579.4 270.3C579.4 276 581.1 276 581.1 281.8C581.1 287.4 578.7 287.4 578.7 292.9C578.7 298 581.1 298 581.1 303.1C581.1 308.2 578.9 308.2 578.9 313.3Q579.9 314.7 583.9 314.7L583.6 314.7Q593.6 314.7 593.6 306.7Z" fill="url(#cg2)"/>
<path d="M577.6 243.8Q585.8 250 584.2 263L582 265Q582 252 573.2 246.6Z" fill="#66bcf8"/>
<path d="M577.2 270.8L577.6 263.6L583.6 267.2Z" fill="#66bcf8"/>
<circle cx="574.6" cy="254.9" r="1.9" fill="#1a4a7a" stroke="#6ab0e8" stroke-width="0.8"/>
<circle cx="584.9" cy="254.9" r="1.9" fill="#1a4a7a" stroke="#6ab0e8" stroke-width="0.8"/>
<circle cx="583.1" cy="263.8" r="1.9" fill="#1a4a7a" stroke="#6ab0e8" stroke-width="0.8"/>
<circle cx="575.4" cy="271.4" r="1.9" fill="#1a4a7a" stroke="#6ab0e8" stroke-width="0.8"/>
<circle cx="577.1" cy="280.9" r="1.9" fill="#1a4a7a" stroke="#6ab0e8" stroke-width="0.8"/>
<circle cx="576.5" cy="298" r="1.9" fill="#1a4a7a" stroke="#6ab0e8" stroke-width="0.8"/>
<circle cx="576.5" cy="306.5" r="1.9" fill="#1a4a7a" stroke="#6ab0e8" stroke-width="0.8"/>
<circle cx="568.6" cy="319" r="1.9" fill="#1a4a7a" stroke="#6ab0e8" stroke-width="0.8"/>
<circle cx="576" cy="317.5" r="1.9" fill="#1a4a7a" stroke="#6ab0e8" stroke-width="0.8"/>
<circle cx="585.7" cy="320.3" r="1.9" fill="#1a4a7a" stroke="#6ab0e8" stroke-width="0.8"/>
<circle cx="592.1" cy="321.8" r="1.9" fill="#1a4a7a" stroke="#6ab0e8" stroke-width="0.8"/>
<rect x="520.6" y="502.1" width="40" height="20.7" fill="rgba(225,95,150,0.3)"/>
<path d="M521.4 502.7C519.6 505.8 521.2 508 520.2 511.5M521.4 522.1C519.6 519 521.2 516.8 520.2 513.3M522.8 502.7C524.6 505.8 523 508 524 511.5M522.8 522.1C524.6 519 523 516.8 524 513.3M527.6 502.7C525.7 505.8 527.3 508 526.4 511.5M527.6 522.1C525.7 519 527.3 516.8 526.4 513.3M528.9 502.7C530.8 505.8 529.2 508 530.1 511.5M528.9 522.1C530.8 519 529.2 516.8 530.1 513.3M533.7 502.7C531.9 505.8 533.5 508 532.5 511.5M533.7 522.1C531.9 519 533.5 516.8 532.5 513.3M535.1 502.7C536.9 505.8 535.3 508 536.3 511.5M535.1 522.1C536.9 519 535.3 516.8 536.3 513.3M539.9 502.7C538 505.8 539.6 508 538.7 511.5M539.9 522.1C538 519 539.6 516.8 538.7 513.3M541.2 502.7C543.1 505.8 541.5 508 542.4 511.5M541.2 522.1C543.1 519 541.5 516.8 542.4 513.3M546 502.7C544.2 505.8 545.8 508 544.8 511.5M546 522.1C544.2 519 545.8 516.8 544.8 513.3M547.4 502.7C549.2 505.8 547.6 508 548.6 511.5M547.4 522.1C549.2 519 547.6 516.8 548.6 513.3M552.2 502.7C550.3 505.8 551.9 508 551 511.5M552.2 522.1C550.3 519 551.9 516.8 551 513.3M553.5 502.7C555.4 505.8 553.8 508 554.7 511.5M553.5 522.1C555.4 519 553.8 516.8 554.7 513.3M558.3 502.7C556.5 505.8 558.1 508 557.1 511.5M558.3 522.1C556.5 519 558.1 516.8 557.1 513.3M559.7 502.7C561.5 505.8 559.9 508 560.9 511.5M559.7 522.1C561.5 519 559.9 516.8 560.9 513.3" fill="none" stroke="#f8bcd8" stroke-width="0.75" opacity="0.95"/>
<circle cx="525.2" cy="498.6" r="2.9" fill="url(#hb)"/>
<circle cx="531.3" cy="498.6" r="2.9" fill="url(#hb)"/>
<circle cx="537.5" cy="498.6" r="2.9" fill="url(#hb)"/>
<circle cx="543.6" cy="498.6" r="2.9" fill="url(#hb)"/>
<circle cx="549.8" cy="498.6" r="2.9" fill="url(#hb)"/>
<circle cx="555.9" cy="498.6" r="2.9" fill="url(#hb)"/>
<circle cx="562.1" cy="498.6" r="2.9" fill="url(#hb)"/>
<circle cx="525.2" cy="523.1" r="2.8" fill="url(#hb)"/>
<circle cx="531.3" cy="523.1" r="2.8" fill="url(#hb)"/>
<circle cx="537.5" cy="523.1" r="2.8" fill="url(#hb)"/>
<circle cx="543.6" cy="523.1" r="2.8" fill="url(#hb)"/>
<circle cx="549.8" cy="523.1" r="2.8" fill="url(#hb)"/>
<circle cx="555.9" cy="523.1" r="2.8" fill="url(#hb)"/>
<circle cx="522.1" cy="500.2" r="3.1" fill="url(#hg)"/>
<circle cx="528.2" cy="500.2" r="3.1" fill="url(#hg)"/>
<circle cx="534.4" cy="500.2" r="3.1" fill="url(#hg)"/>
<circle cx="540.5" cy="500.2" r="3.1" fill="url(#hg)"/>
<circle cx="546.7" cy="500.2" r="3.1" fill="url(#hg)"/>
<circle cx="552.8" cy="500.2" r="3.1" fill="url(#hg)"/>
<circle cx="559" cy="500.2" r="3.1" fill="url(#hg)"/>
<circle cx="522.1" cy="524.6" r="3.1" fill="url(#hg)"/>
<circle cx="528.2" cy="524.6" r="3.1" fill="url(#hg)"/>
<circle cx="534.4" cy="524.6" r="3.1" fill="url(#hg)"/>
<circle cx="540.5" cy="524.6" r="3.1" fill="url(#hg)"/>
<circle cx="546.7" cy="524.6" r="3.1" fill="url(#hg)"/>
<circle cx="552.8" cy="524.6" r="3.1" fill="url(#hg)"/>
<circle cx="559" cy="524.6" r="3.1" fill="url(#hg)"/>
<rect x="593" y="502.1" width="40.6" height="20.7" fill="rgba(225,95,150,0.3)"/>
<path d="M593.8 502.7C592 505.8 593.6 508 592.6 511.5M593.8 522.1C592 519 593.6 516.8 592.6 513.3M595.2 502.7C597 505.8 595.4 508 596.4 511.5M595.2 522.1C597 519 595.4 516.8 596.4 513.3M600.1 502.7C598.2 505.8 599.8 508 598.9 511.5M600.1 522.1C598.2 519 599.8 516.8 598.9 513.3M601.4 502.7C603.3 505.8 601.7 508 602.6 511.5M601.4 522.1C603.3 519 601.7 516.8 602.6 513.3M606.3 502.7C604.5 505.8 606.1 508 605.1 511.5M606.3 522.1C604.5 519 606.1 516.8 605.1 513.3M607.7 502.7C609.5 505.8 607.9 508 608.9 511.5M607.7 522.1C609.5 519 607.9 516.8 608.9 513.3M612.6 502.7C610.7 505.8 612.3 508 611.4 511.5M612.6 522.1C610.7 519 612.3 516.8 611.4 513.3M613.9 502.7C615.8 505.8 614.2 508 615.1 511.5M613.9 522.1C615.8 519 614.2 516.8 615.1 513.3M618.8 502.7C617 505.8 618.6 508 617.6 511.5M618.8 522.1C617 519 618.6 516.8 617.6 513.3M620.2 502.7C622 505.8 620.4 508 621.4 511.5M620.2 522.1C622 519 620.4 516.8 621.4 513.3M625.1 502.7C623.2 505.8 624.8 508 623.9 511.5M625.1 522.1C623.2 519 624.8 516.8 623.9 513.3M626.4 502.7C628.3 505.8 626.7 508 627.6 511.5M626.4 522.1C628.3 519 626.7 516.8 627.6 513.3M631.3 502.7C629.5 505.8 631.1 508 630.1 511.5M631.3 522.1C629.5 519 631.1 516.8 630.1 513.3M632.7 502.7C634.5 505.8 632.9 508 633.9 511.5M632.7 522.1C634.5 519 632.9 516.8 633.9 513.3" fill="none" stroke="#f8bcd8" stroke-width="0.75" opacity="0.95"/>
<circle cx="597.6" cy="498.6" r="2.9" fill="url(#hb)"/>
<circle cx="603.9" cy="498.6" r="2.9" fill="url(#hb)"/>
<circle cx="610.1" cy="498.6" r="2.9" fill="url(#hb)"/>
<circle cx="616.4" cy="498.6" r="2.9" fill="url(#hb)"/>
<circle cx="622.6" cy="498.6" r="2.9" fill="url(#hb)"/>
<circle cx="628.9" cy="498.6" r="2.9" fill="url(#hb)"/>
<circle cx="635.1" cy="498.6" r="2.9" fill="url(#hb)"/>
<circle cx="597.6" cy="523.1" r="2.8" fill="url(#hb)"/>
<circle cx="603.9" cy="523.1" r="2.8" fill="url(#hb)"/>
<circle cx="610.1" cy="523.1" r="2.8" fill="url(#hb)"/>
<circle cx="616.4" cy="523.1" r="2.8" fill="url(#hb)"/>
<circle cx="622.6" cy="523.1" r="2.8" fill="url(#hb)"/>
<circle cx="628.9" cy="523.1" r="2.8" fill="url(#hb)"/>
<circle cx="594.5" cy="500.2" r="3.1" fill="url(#hg)"/>
<circle cx="600.8" cy="500.2" r="3.1" fill="url(#hg)"/>
<circle cx="607" cy="500.2" r="3.1" fill="url(#hg)"/>
<circle cx="613.2" cy="500.2" r="3.1" fill="url(#hg)"/>
<circle cx="619.5" cy="500.2" r="3.1" fill="url(#hg)"/>
<circle cx="625.8" cy="500.2" r="3.1" fill="url(#hg)"/>
<circle cx="632" cy="500.2" r="3.1" fill="url(#hg)"/>
<circle cx="594.5" cy="524.6" r="3.1" fill="url(#hg)"/>
<circle cx="600.8" cy="524.6" r="3.1" fill="url(#hg)"/>
<circle cx="607" cy="524.6" r="3.1" fill="url(#hg)"/>
<circle cx="613.2" cy="524.6" r="3.1" fill="url(#hg)"/>
<circle cx="619.5" cy="524.6" r="3.1" fill="url(#hg)"/>
<circle cx="625.8" cy="524.6" r="3.1" fill="url(#hg)"/>
<circle cx="632" cy="524.6" r="3.1" fill="url(#hg)"/>
<rect x="567.4" y="491.1" width="19.2" height="38.9" fill="#380c7e"/>
<path d="M562.4 498.6Q562.4 490.6 572.4 490.6L570 490.6Q574 490.6 574.5 492.2C574.5 496.8 572.9 496.8 572.9 501.4C572.9 506.4 575.1 506.4 575.1 511.3C575.1 516.1 572.9 516.1 572.9 520.9C572.9 525.1 574.8 525.1 574.8 529.3Q574 530.5 570 530.5L572.4 530.5Q562.4 530.5 562.4 522.5Z" fill="url(#cg2)"/>
<path d="M591.7 498.6Q591.7 490.6 581.7 490.6L584 490.6Q580 490.6 579.5 492.2C579.5 496.8 581.1 496.8 581.1 501.4C581.1 506.4 578.9 506.4 578.9 511.3C578.9 516.1 581.1 516.1 581.1 520.9C581.1 525.1 579.2 525.1 579.2 529.3Q580 530.5 584 530.5L581.7 530.5Q591.7 530.5 591.7 522.5Z" fill="url(#cg2)"/>
<path d="M505 449.3C535 450 560 462 577 489.5L515 493.5C510 494 506 494.5 503 495Z" fill="url(#cone)"/>
<defs><linearGradient id="mg" x1="0" y1="0" x2="1" y2="0"><stop offset="0" stop-color="#9464b8"/><stop offset="1" stop-color="#7a4ca8"/></linearGradient></defs><circle cx="501.6" cy="471.6" r="22.8" fill="url(#mg)"/>
<path d="M488 464.3L483.8 461.9L483.8 457.1L488 454.7L492.2 457.1L492.2 461.9ZM488.6 473.6L484.4 471.2L484.4 466.4L488.6 464L492.8 466.4L492.8 471.2ZM490 483.4L485.8 481L485.8 476.2L490 473.8L494.2 476.2L494.2 481ZM491 491.8L487.4 489.7L487.4 485.5L491 483.4L494.6 485.5L494.6 489.7ZM493.5 450.5L491.5 455.5M492 492L492.2 495" fill="none" stroke="#2ee22e" stroke-width="1.6" stroke-linejoin="round"/>
<path d="M510 459.8L505.8 457.4L505.8 452.6L510 450.2L514.2 452.6L514.2 457.4ZM514.8 471.5L510.5 469L510.5 464L514.8 461.5L519.1 464L519.1 469ZM515.4 482.3L511.2 479.9L511.2 475.1L515.4 472.7L519.6 475.1L519.6 479.9ZM514.6 491L511.1 489L511.1 485L514.6 483L518.1 485L518.1 489ZM512 459.5L513.5 462M517.2 459L518.2 462" fill="none" stroke="#34d8f4" stroke-width="1.6" stroke-linejoin="round"/>
<path d="M484.3 461L481 461.8M485.6 473L483 472.5M494 473L497 473.2M494.8 481L497.5 480M487 485L484.5 486M494.8 487.5L497.5 488.5M497 455.5L499.5 456.5M505.2 455.5L502 455M507.8 462L506 465M519 470L522 469M510 470.5L507 471M519 483L521.5 482.5M511 483L508.5 484M513.8 491L511.5 493M518.5 451L521 449.5" stroke="#ffffff" stroke-width="1.3" stroke-linecap="round"/>
<circle cx="502" cy="473.1" r="5.9" fill="url(#kb)"/>
<circle cx="546" cy="479.7" r="2" fill="url(#nb)"/>
<circle cx="553.4" cy="477.7" r="2" fill="url(#kb2)"/>
<circle cx="561" cy="480.3" r="2" fill="url(#lb)"/>
<circle cx="570.5" cy="485.2" r="2" fill="url(#nb)"/>
<circle cx="582" cy="485.7" r="2" fill="url(#kb2)"/>
<circle cx="589.7" cy="482" r="2" fill="url(#lb)"/>
<circle cx="584" cy="480" r="2" fill="url(#lb)"/>
<circle cx="598" cy="478" r="2" fill="url(#kb2)"/>
<circle cx="604" cy="482" r="2" fill="url(#lb)"/>
<circle cx="596" cy="488" r="2" fill="url(#nb)"/>
<circle cx="576.6" cy="492.6" r="2" fill="url(#lb)"/>
<circle cx="577.2" cy="500.6" r="2" fill="url(#kb2)"/>
<circle cx="576.8" cy="515.5" r="2" fill="url(#nb)"/>
<circle cx="576.6" cy="523" r="2" fill="url(#lb)"/>
<circle cx="550.5" cy="534.5" r="2" fill="url(#kb2)"/>
<circle cx="557.3" cy="537.6" r="2" fill="url(#kb2)"/>
<circle cx="561.3" cy="542.2" r="2" fill="url(#kb2)"/>
<circle cx="567.6" cy="536.4" r="2" fill="url(#kb2)"/>
<circle cx="576.5" cy="532.4" r="2" fill="url(#kb2)"/>
<circle cx="583.9" cy="535" r="2" fill="url(#kb2)"/>
<circle cx="586.3" cy="540.7" r="2" fill="url(#kb2)"/>
<circle cx="590.4" cy="531.6" r="2" fill="url(#kb2)"/>
<circle cx="595.2" cy="538.5" r="2" fill="url(#kb2)"/>
<circle cx="600" cy="532.4" r="2" fill="url(#kb2)"/>
<defs><radialGradient id="nb" cx="0.45" cy="0.4" r="0.6"><stop offset="0" stop-color="#ffd040"/><stop offset="1" stop-color="#ff8a00"/></radialGradient><radialGradient id="lb" cx="0.45" cy="0.4" r="0.6"><stop offset="0" stop-color="#3aa858"/><stop offset="1" stop-color="#12702c"/></radialGradient><radialGradient id="kb2" cx="0.45" cy="0.4" r="0.6"><stop offset="0" stop-color="#3a9aff"/><stop offset="1" stop-color="#0a44ea"/></radialGradient></defs>
<circle cx="592.1" cy="455.3" r="4" fill="url(#kb2)"/>
<circle cx="621.4" cy="455.3" r="4" fill="url(#nb)"/>
<circle cx="656" cy="455.3" r="4" fill="url(#lb)"/>
<path d="M512.5 353.8C511.2 361.7 513.8 368.5 512.5 376.3M514.2 353.6C512.9 361.4 515.5 368.2 514.2 376.1M515.9 353.3C514.6 361.2 517.2 367.9 515.9 375.8M517.6 353C516.3 360.9 518.9 367.7 517.6 375.5M519.3 352.8C518 360.7 520.6 367.4 519.3 375.3M521 352.6C519.7 360.5 522.3 367.2 521 375.1M522.7 352.4C521.4 360.3 524 367 522.7 374.9M524.4 352.2C523.1 360.1 525.7 366.8 524.4 374.7M526.1 352C524.8 359.9 527.4 366.6 526.1 374.5M527.8 351.8C526.5 359.7 529.1 366.5 527.8 374.3M529.5 351.7C528.2 359.6 530.8 366.3 529.5 374.2M531.2 351.6C529.9 359.4 532.5 366.2 531.2 374.1M532.9 351.4C531.6 359.3 534.2 366.1 532.9 373.9M534.6 351.3C533.3 359.2 535.9 366 534.6 373.8M536.3 351.2C535 359.1 537.6 365.9 536.3 373.7M538 351.2C536.7 359 539.3 365.8 538 373.7M539.7 351.1C538.4 359 541 365.7 539.7 373.6M541.4 351.1C540.1 358.9 542.7 365.7 541.4 373.6M543.1 351C541.8 358.9 544.4 365.6 543.1 373.5M544.8 351C543.5 358.9 546.1 365.6 544.8 373.5M546.5 351C545.2 358.9 547.8 365.6 546.5 373.5M548.2 351C546.9 358.9 549.5 365.6 548.2 373.5M549.9 351C548.6 358.9 551.2 365.7 549.9 373.5M551.6 351.1C550.3 358.9 552.9 365.7 551.6 373.6M553.3 351.1C552 359 554.6 365.7 553.3 373.6M555 351.2C553.7 359.1 556.3 365.8 555 373.7M556.7 351.3C555.4 359.1 558 365.9 556.7 373.8M558.4 351.4C557.1 359.2 559.7 366 558.4 373.9M560.1 351.5C558.8 359.4 561.4 366.1 560.1 374M561.8 351.6C560.5 359.5 563.1 366.2 561.8 374.1M563.5 351.7C562.2 359.6 564.8 366.4 563.5 374.2M565.2 351.9C563.9 359.8 566.5 366.5 565.2 374.4M566.9 352.1C565.6 359.9 568.2 366.7 566.9 374.6M568.6 352.2C567.3 360.1 569.9 366.9 568.6 374.7M570.3 352.4C569 360.3 571.6 367.1 570.3 374.9M572 352.6C570.7 360.5 573.3 367.3 572 375.1M573.7 352.9C572.4 360.7 575 367.5 573.7 375.4M575.4 353.1C574.1 361 576.7 367.7 575.4 375.6M577.1 353.4C575.8 361.2 578.4 368 577.1 375.9M578.8 353.6C577.5 361.5 580.1 368.3 578.8 376.1" fill="none" stroke="#c0a4e6" stroke-width="0.6" opacity="0.7"/>
<circle cx="521.5" cy="347" r="2.2" fill="url(#hg2)"/>
<circle cx="527.7" cy="346.4" r="2.2" fill="url(#hg2)"/>
<circle cx="533.9" cy="345.9" r="2.2" fill="url(#hg2)"/>
<circle cx="540.1" cy="345.6" r="2.2" fill="url(#hg2)"/>
<circle cx="546.2" cy="345.5" r="2.2" fill="url(#hg2)"/>
<circle cx="552.4" cy="345.6" r="2.2" fill="url(#hg2)"/>
<circle cx="558.6" cy="345.9" r="2.2" fill="url(#hg2)"/>
<circle cx="564.8" cy="346.4" r="2.2" fill="url(#hg2)"/>
<circle cx="571" cy="347" r="2.2" fill="url(#hg2)"/>
<circle cx="516.5" cy="349.9" r="2.2" fill="url(#hg2)"/>
<circle cx="523.1" cy="349.1" r="2.2" fill="url(#hg2)"/>
<circle cx="529.7" cy="348.4" r="2.2" fill="url(#hg2)"/>
<circle cx="536.3" cy="348" r="2.2" fill="url(#hg2)"/>
<circle cx="542.9" cy="347.8" r="2.2" fill="url(#hg2)"/>
<circle cx="549.6" cy="347.8" r="2.2" fill="url(#hg2)"/>
<circle cx="556.2" cy="348" r="2.2" fill="url(#hg2)"/>
<circle cx="562.8" cy="348.4" r="2.2" fill="url(#hg2)"/>
<circle cx="569.4" cy="349.1" r="2.2" fill="url(#hg2)"/>
<circle cx="576" cy="349.9" r="2.2" fill="url(#hg2)"/>
<circle cx="511.5" cy="353" r="2.2" fill="url(#hg2)"/>
<circle cx="517.8" cy="352" r="2.2" fill="url(#hg2)"/>
<circle cx="524.1" cy="351.2" r="2.2" fill="url(#hg2)"/>
<circle cx="530.5" cy="350.6" r="2.2" fill="url(#hg2)"/>
<circle cx="536.8" cy="350.2" r="2.2" fill="url(#hg2)"/>
<circle cx="543.1" cy="350" r="2.2" fill="url(#hg2)"/>
<circle cx="549.4" cy="350" r="2.2" fill="url(#hg2)"/>
<circle cx="555.7" cy="350.2" r="2.2" fill="url(#hg2)"/>
<circle cx="562" cy="350.6" r="2.2" fill="url(#hg2)"/>
<circle cx="568.4" cy="351.2" r="2.2" fill="url(#hg2)"/>
<circle cx="574.7" cy="352" r="2.2" fill="url(#hg2)"/>
<circle cx="581" cy="353" r="2.2" fill="url(#hg2)"/>
<circle cx="521.5" cy="375" r="2.2" fill="url(#hg2)"/>
<circle cx="527.7" cy="374.4" r="2.2" fill="url(#hg2)"/>
<circle cx="533.9" cy="373.9" r="2.2" fill="url(#hg2)"/>
<circle cx="540.1" cy="373.6" r="2.2" fill="url(#hg2)"/>
<circle cx="546.2" cy="373.5" r="2.2" fill="url(#hg2)"/>
<circle cx="552.4" cy="373.6" r="2.2" fill="url(#hg2)"/>
<circle cx="558.6" cy="373.9" r="2.2" fill="url(#hg2)"/>
<circle cx="564.8" cy="374.4" r="2.2" fill="url(#hg2)"/>
<circle cx="571" cy="375" r="2.2" fill="url(#hg2)"/>
<circle cx="516.5" cy="379.7" r="2.2" fill="url(#hg2)"/>
<circle cx="523.1" cy="378.8" r="2.2" fill="url(#hg2)"/>
<circle cx="529.7" cy="378.2" r="2.2" fill="url(#hg2)"/>
<circle cx="536.3" cy="377.7" r="2.2" fill="url(#hg2)"/>
<circle cx="542.9" cy="377.5" r="2.2" fill="url(#hg2)"/>
<circle cx="549.6" cy="377.5" r="2.2" fill="url(#hg2)"/>
<circle cx="556.2" cy="377.7" r="2.2" fill="url(#hg2)"/>
<circle cx="562.8" cy="378.2" r="2.2" fill="url(#hg2)"/>
<circle cx="569.4" cy="378.8" r="2.2" fill="url(#hg2)"/>
<circle cx="576" cy="379.7" r="2.2" fill="url(#hg2)"/>
<circle cx="511.5" cy="384.5" r="2.2" fill="url(#hg2)"/>
<circle cx="517.8" cy="383.5" r="2.2" fill="url(#hg2)"/>
<circle cx="524.1" cy="382.7" r="2.2" fill="url(#hg2)"/>
<circle cx="530.5" cy="382.1" r="2.2" fill="url(#hg2)"/>
<circle cx="536.8" cy="381.7" r="2.2" fill="url(#hg2)"/>
<circle cx="543.1" cy="381.5" r="2.2" fill="url(#hg2)"/>
<circle cx="549.4" cy="381.5" r="2.2" fill="url(#hg2)"/>
<circle cx="555.7" cy="381.7" r="2.2" fill="url(#hg2)"/>
<circle cx="562" cy="382.1" r="2.2" fill="url(#hg2)"/>
<circle cx="568.4" cy="382.7" r="2.2" fill="url(#hg2)"/>
<circle cx="574.7" cy="383.5" r="2.2" fill="url(#hg2)"/>
<circle cx="581" cy="384.5" r="2.2" fill="url(#hg2)"/>
<ellipse cx="541.5" cy="366.5" rx="4.4" ry="22" fill="none" stroke="#2a64ec" stroke-width="1.5"/>
<ellipse cx="550.5" cy="366.5" rx="4.4" ry="22" fill="none" stroke="#2a64ec" stroke-width="1.5"/>
<path d="M546 341V390" stroke="#f4a028" stroke-width="2.4"/>
<path d="M548.6 357.4L545.7 359.1L542.8 357.4L542.8 354L545.7 352.3L548.6 354Z" fill="#fbe64a"/>
<path d="M548.6 366.3L545.7 368L542.8 366.3L542.8 362.9L545.7 361.2L548.6 362.9Z" fill="#fbe64a"/>
<path d="M548.6 375.2L545.7 376.9L542.8 375.2L542.8 371.8L545.7 370.1L548.6 371.8Z" fill="#fbe64a"/>
<path d="M545.7 355.7L545.7 373.5" stroke="#fbe64a" stroke-width="1.2"/>
<circle cx="546" cy="341.5" r="3.4" fill="url(#hg2)"/><circle cx="546" cy="389.5" r="3.4" fill="url(#hg2)"/>
<path d="M542 359.9L539.3 361.5L536.6 359.9L536.6 356.8L539.3 355.3L542 356.8Z" fill="#fbe64a"/>
<path d="M542 369.7L539.3 371.2L536.6 369.7L536.6 366.6L539.3 365L542 366.6Z" fill="#fbe64a"/>
<path d="M542 379.2L539.3 380.8L536.6 379.2L536.6 376.1L539.3 374.6L542 376.1Z" fill="#fbe64a"/>
<path d="M539.3 358.4L539.3 377.7" stroke="#fbe64a" stroke-width="1.2"/>
<path d="M555.6 359.9L552.9 361.5L550.2 359.9L550.2 356.8L552.9 355.3L555.6 356.8Z" fill="#fbe64a"/>
<path d="M555.6 369.7L552.9 371.2L550.2 369.7L550.2 366.6L552.9 365L555.6 366.6Z" fill="#fbe64a"/>
<path d="M555.6 379.2L552.9 380.8L550.2 379.2L550.2 376.1L552.9 374.6L555.6 376.1Z" fill="#fbe64a"/>
<path d="M552.9 358.4L552.9 377.7" stroke="#fbe64a" stroke-width="1.2"/>
<path d="M503 366.2L508 366.2" stroke="#ffe41a" stroke-width="1.6"/><path d="M511 366.2L507 363.2L507 369.2Z" fill="#ffe41a"/>
<path d="M590.5 366.2L585.5 366.2" stroke="#ffe41a" stroke-width="1.6"/><path d="M582.5 366.2L586.5 363.2L586.5 369.2Z" fill="#ffe41a"/>
<path d="M512.5 405.8C511.2 412.1 513.8 417.5 512.5 423.8M514.2 405.5C512.9 411.8 515.5 417.2 514.2 423.5M515.9 405.2C514.6 411.5 517.2 416.9 515.9 423.2M517.6 404.9C516.3 411.2 518.9 416.6 517.6 422.9M519.3 404.6C518 410.9 520.6 416.3 519.3 422.6M521 404.4C519.7 410.7 522.3 416.1 521 422.4M522.7 404.2C521.4 410.5 524 415.9 522.7 422.2M524.4 404C523.1 410.3 525.7 415.7 524.4 422M526.1 403.8C524.8 410.1 527.4 415.5 526.1 421.8M527.8 403.6C526.5 409.9 529.1 415.3 527.8 421.6M529.5 403.5C528.2 409.8 530.8 415.2 529.5 421.5M531.2 403.4C529.9 409.7 532.5 415.1 531.2 421.4M532.9 403.2C531.6 409.5 534.2 414.9 532.9 421.2M534.6 403.2C533.3 409.5 535.9 414.9 534.6 421.2M536.3 403.1C535 409.4 537.6 414.8 536.3 421.1M538 403C536.7 409.3 539.3 414.7 538 421M539.7 403C538.4 409.3 541 414.7 539.7 421M541.4 403C540.1 409.3 542.7 414.7 541.4 421M543.1 403C541.8 409.3 544.4 414.7 543.1 421M544.8 403C543.5 409.3 546.1 414.7 544.8 421M546.5 403.1C545.2 409.4 547.8 414.8 546.5 421.1M548.2 403.1C546.9 409.4 549.5 414.8 548.2 421.1M549.9 403.2C548.6 409.5 551.2 414.9 549.9 421.2M551.6 403.3C550.3 409.6 552.9 415 551.6 421.3M553.3 403.5C552 409.8 554.6 415.2 553.3 421.5M555 403.6C553.7 409.9 556.3 415.3 555 421.6M556.7 403.8C555.4 410.1 558 415.5 556.7 421.8M558.4 404C557.1 410.3 559.7 415.7 558.4 422M560.1 404.2C558.8 410.5 561.4 415.9 560.1 422.2M561.8 404.4C560.5 410.7 563.1 416.1 561.8 422.4M563.5 404.6C562.2 410.9 564.8 416.3 563.5 422.6M565.2 404.9C563.9 411.2 566.5 416.6 565.2 422.9M566.9 405.2C565.6 411.5 568.2 416.9 566.9 423.2M568.6 405.4C567.3 411.7 569.9 417.1 568.6 423.4M570.3 405.8C569 412.1 571.6 417.5 570.3 423.8" fill="none" stroke="#c0a4e6" stroke-width="0.6" opacity="0.7"/>
<circle cx="521.5" cy="398.8" r="2.2" fill="url(#hg2)"/>
<circle cx="528.2" cy="398.1" r="2.2" fill="url(#hg2)"/>
<circle cx="534.8" cy="397.6" r="2.2" fill="url(#hg2)"/>
<circle cx="541.5" cy="397.5" r="2.2" fill="url(#hg2)"/>
<circle cx="548.2" cy="397.6" r="2.2" fill="url(#hg2)"/>
<circle cx="554.8" cy="398.1" r="2.2" fill="url(#hg2)"/>
<circle cx="561.5" cy="398.8" r="2.2" fill="url(#hg2)"/>
<circle cx="516.5" cy="401.8" r="2.2" fill="url(#hg2)"/>
<circle cx="522.8" cy="400.9" r="2.2" fill="url(#hg2)"/>
<circle cx="529" cy="400.3" r="2.2" fill="url(#hg2)"/>
<circle cx="535.2" cy="399.9" r="2.2" fill="url(#hg2)"/>
<circle cx="541.5" cy="399.8" r="2.2" fill="url(#hg2)"/>
<circle cx="547.8" cy="399.9" r="2.2" fill="url(#hg2)"/>
<circle cx="554" cy="400.3" r="2.2" fill="url(#hg2)"/>
<circle cx="560.2" cy="400.9" r="2.2" fill="url(#hg2)"/>
<circle cx="566.5" cy="401.8" r="2.2" fill="url(#hg2)"/>
<circle cx="511.5" cy="405" r="2.2" fill="url(#hg2)"/>
<circle cx="518.2" cy="403.8" r="2.2" fill="url(#hg2)"/>
<circle cx="524.8" cy="402.9" r="2.2" fill="url(#hg2)"/>
<circle cx="531.5" cy="402.3" r="2.2" fill="url(#hg2)"/>
<circle cx="538.2" cy="402" r="2.2" fill="url(#hg2)"/>
<circle cx="544.8" cy="402" r="2.2" fill="url(#hg2)"/>
<circle cx="551.5" cy="402.3" r="2.2" fill="url(#hg2)"/>
<circle cx="558.2" cy="402.9" r="2.2" fill="url(#hg2)"/>
<circle cx="564.8" cy="403.8" r="2.2" fill="url(#hg2)"/>
<circle cx="571.5" cy="405" r="2.2" fill="url(#hg2)"/>
<circle cx="521.5" cy="422.3" r="2.2" fill="url(#hg2)"/>
<circle cx="528.2" cy="421.6" r="2.2" fill="url(#hg2)"/>
<circle cx="534.8" cy="421.1" r="2.2" fill="url(#hg2)"/>
<circle cx="541.5" cy="421" r="2.2" fill="url(#hg2)"/>
<circle cx="548.2" cy="421.1" r="2.2" fill="url(#hg2)"/>
<circle cx="554.8" cy="421.6" r="2.2" fill="url(#hg2)"/>
<circle cx="561.5" cy="422.3" r="2.2" fill="url(#hg2)"/>
<circle cx="516.5" cy="426.3" r="2.2" fill="url(#hg2)"/>
<circle cx="522.8" cy="425.4" r="2.2" fill="url(#hg2)"/>
<circle cx="529" cy="424.8" r="2.2" fill="url(#hg2)"/>
<circle cx="535.2" cy="424.4" r="2.2" fill="url(#hg2)"/>
<circle cx="541.5" cy="424.2" r="2.2" fill="url(#hg2)"/>
<circle cx="547.8" cy="424.4" r="2.2" fill="url(#hg2)"/>
<circle cx="554" cy="424.8" r="2.2" fill="url(#hg2)"/>
<circle cx="560.2" cy="425.4" r="2.2" fill="url(#hg2)"/>
<circle cx="566.5" cy="426.3" r="2.2" fill="url(#hg2)"/>
<circle cx="511.5" cy="430.5" r="2.2" fill="url(#hg2)"/>
<circle cx="518.2" cy="429.3" r="2.2" fill="url(#hg2)"/>
<circle cx="524.8" cy="428.4" r="2.2" fill="url(#hg2)"/>
<circle cx="531.5" cy="427.8" r="2.2" fill="url(#hg2)"/>
<circle cx="538.2" cy="427.5" r="2.2" fill="url(#hg2)"/>
<circle cx="544.8" cy="427.5" r="2.2" fill="url(#hg2)"/>
<circle cx="551.5" cy="427.8" r="2.2" fill="url(#hg2)"/>
<circle cx="558.2" cy="428.4" r="2.2" fill="url(#hg2)"/>
<circle cx="564.8" cy="429.3" r="2.2" fill="url(#hg2)"/>
<circle cx="571.5" cy="430.5" r="2.2" fill="url(#hg2)"/>
<ellipse cx="530.2" cy="416" rx="4.4" ry="17.5" fill="none" stroke="#2a64ec" stroke-width="1.4"/>
<ellipse cx="550.8" cy="416" rx="4.4" ry="17.5" fill="none" stroke="#2a64ec" stroke-width="1.4"/>
<path d="M530.1 410.1L527.4 411.6L524.7 410.1L524.7 406.9L527.4 405.4L530.1 406.9Z" fill="#fbe64a"/>
<path d="M530.1 418.2L527.4 419.8L524.7 418.2L524.7 415.1L527.4 413.6L530.1 415.1Z" fill="#fbe64a"/>
<path d="M530.1 426.6L527.4 428.1L524.7 426.6L524.7 423.4L527.4 421.9L530.1 423.4Z" fill="#fbe64a"/>
<path d="M527.4 408.5L527.4 425" stroke="#fbe64a" stroke-width="1.2"/>
<path d="M536 407.8L533.3 409.3L530.6 407.8L530.6 404.6L533.3 403.1L536 404.6Z" fill="#fbe64a"/>
<path d="M536 416.1L533.3 417.6L530.6 416.1L530.6 412.9L533.3 411.4L536 412.9Z" fill="#fbe64a"/>
<path d="M536 424.4L533.3 425.9L530.6 424.4L530.6 421.2L533.3 419.7L536 421.2Z" fill="#fbe64a"/>
<path d="M533.3 406.2L533.3 422.8" stroke="#fbe64a" stroke-width="1.2"/>
<path d="M549.4 407.8L546.7 409.3L544 407.8L544 404.6L546.7 403.1L549.4 404.6Z" fill="#fbe64a"/>
<path d="M549.4 416.1L546.7 417.6L544 416.1L544 412.9L546.7 411.4L549.4 412.9Z" fill="#fbe64a"/>
<path d="M549.4 424.4L546.7 425.9L544 424.4L544 421.2L546.7 419.7L549.4 421.2Z" fill="#fbe64a"/>
<path d="M546.7 406.2L546.7 422.8" stroke="#fbe64a" stroke-width="1.2"/>
<path d="M555.4 410.1L552.7 411.6L550 410.1L550 406.9L552.7 405.4L555.4 406.9Z" fill="#fbe64a"/>
<path d="M555.4 418.2L552.7 419.8L550 418.2L550 415.1L552.7 413.6L555.4 415.1Z" fill="#fbe64a"/>
<path d="M555.4 426.6L552.7 428.1L550 426.6L550 423.4L552.7 421.9L555.4 423.4Z" fill="#fbe64a"/>
<path d="M552.7 408.5L552.7 425" stroke="#fbe64a" stroke-width="1.2"/>
<path d="M510.5 414.8L505.5 414.8" stroke="#ffe41a" stroke-width="1.6"/><path d="M502.5 414.8L506.5 411.8L506.5 417.8Z" fill="#ffe41a"/>
<path d="M572.2 414.8L577.2 414.8" stroke="#ffe41a" stroke-width="1.6"/><path d="M580.2 414.8L576.2 411.8L576.2 417.8Z" fill="#ffe41a"/>
<rect x="522.9" y="637.9" width="170.8" height="57.1" fill="#1c2d5a"/>
<rect x="542.4" y="653.9" width="25.5" height="24.4" fill="none" stroke="#fff" stroke-width="2"/>
<path d="M545.5 656.5V675.5M564.8 656.5V675.5" stroke="#fff" stroke-width="0.9"/>
<path d="M548 668Q550 661.5 555.2 661Q560.4 661.5 562.4 668M555.2 661.5V671M553 664.5L551 672.5M557.4 664.5L559.4 672.5" fill="none" stroke="#fff" stroke-width="1.3"/>
<path transform="translate(573.6 653.2)" d="M1 3H15M8 0.5V16M3 5H13V10.5H3ZM3 7.75H13M8 11L1.5 15.5M8 11L14.5 15.5" fill="none" stroke="#ffffff" stroke-width="1.25" stroke-linecap="square"/>
<path transform="translate(590.7 653.2)" d="M8 0.3V2.5M1 3H15M3.5 5H12.5V9.5H3.5ZM8 9.5V15.5L6.5 14.8M4.8 11.5L2 14.8M11.2 11.5L14 14.8" fill="none" stroke="#ffffff" stroke-width="1.25" stroke-linecap="square"/>
<path transform="translate(607.8 653.2)" d="M2 2.5H14M8 2.5V14M0.5 14H15.5" fill="none" stroke="#ffffff" stroke-width="1.25" stroke-linecap="square"/>
<path transform="translate(624.9 653.2)" d="M5 0.5L5.8 3.5M11 0.5L10.2 3.5M1 4.5H15M3 7H13M1 9.5H15M8 4.5V16M3 12.2H13M8 12.5L2 16M8 12.5L14 16M5.5 5.5L6 6.5M10.5 5.5L10 6.5" fill="none" stroke="#ffffff" stroke-width="1.25" stroke-linecap="square"/>
<path transform="translate(642 653.2)" d="M1 5.5H15M8 0.5V5.5Q7.5 11 1.5 15.5M8.5 7.5Q11 12 15 15.5" fill="none" stroke="#ffffff" stroke-width="1.25" stroke-linecap="square"/>
<path transform="translate(659.1 653.2)" d="M4 0.5L5 2.6M8 0.3L8.4 2.6M12 0.5L11 2.6M1.5 6V3.8H14.5V6M4 6.8H12L8.3 9.2M8 9V15.5L6.3 14.8M1 11.5H15" fill="none" stroke="#ffffff" stroke-width="1.25" stroke-linecap="square"/>
</svg>
<div class="t title" style="top:6px;line-height:26px"><i>Opening New Doors:</i> Developing the First Synthetic<br>Mechanosensitive Potassium Channels</div>
<div class="t b" style="left:151.3px;top:98.1px;font-size:15.6px;line-height:19px">Ion channel proteins<br>play a key role in many<br>biological processes</div>
<div class="t b" style="left:490.6px;top:98.1px;font-size:15.6px;line-height:19px">However, structural<br>difficulties impede their<br>synthetic development</div>
<div class="t b" style="left:0;width:700px;text-align:center;top:193.8px;font-size:16.7px">Synthetic mechanosensitive channel with ion selectivity</div>
<div class="t b" style="left:16px;width:333px;text-align:center;top:225px;font-size:16.6px">Synthesis</div>
<div class="t b" style="left:351px;width:333px;text-align:center;top:225px;font-size:16.6px">Properties</div>
<div class="t" style="left:64.3px;top:259.2px;font-size:11.9px">Newly designed amphiphilic cyclophane (C<span style="font-size:7px;vertical-align:-2px">FF</span>)</div>
<div class="t" style="left:164.8px;top:285.8px;font-size:10.8px;line-height:12.75px">Hydrophilic<br>octa(ethylene<br>glycol) linker</div>
<div class="t" style="left:164.8px;top:333.6px;font-size:10.8px;line-height:12.65px">Hydrophobic<br>perfluorinated<br>oligo(phenylene&minus;ethynylene)<br>unit</div>
<div class="t" style="right:578px;top:477px;font-size:10.8px;line-height:12.9px;text-align:right">2 C<span style="font-size:7.5px">FF</span> molecules<br>incorporated into<br>lipid bilayer<br>membrane</div>
<div class="t" style="left:361.5px;top:263px;font-size:14.5px;line-height:17.6px">Efficient<br>transmembrane<br>ion transport</div>
<div class="t" style="left:361px;top:379px;font-size:14.6px">Mechanosensitivity</div>
<div class="t" style="left:361px;top:481px;font-size:14.55px;line-height:17.4px">Potassium ion<br>selectivity</div>
<div class="t" style="left:597.1px;top:346.2px;font-size:10.6px;line-height:13.2px">Membrane<br>contraction &ndash;<br>Transport ON</div>
<div class="t" style="left:591.9px;top:394.5px;font-size:10.6px;line-height:13px">Membrane<br>expansion &ndash;<br>Transport OFF</div>
<div class="t" style="left:600.5px;top:449.8px;font-size:10px">K<span style="font-size:6px;vertical-align:3px">+</span></div>
<div class="t" style="left:630px;top:449.8px;font-size:10px">Na<span style="font-size:6px;vertical-align:3px">+</span></div>
<div class="t" style="left:664.3px;top:449.8px;font-size:10px">Li<span style="font-size:6px;vertical-align:3px">+</span></div>
<div class="t b" style="left:0;width:700px;text-align:center;top:573.9px;font-size:17.4px;line-height:21px;color:#fcf542">The development of synthetic mechanosensitive channels can facilitate their<br>therapeutic, biotechnological, and industrial use</div>
<div class="t b" style="left:11.9px;top:641px;font-size:10.2px;line-height:13.7px;color:#1e3060">Supramolecular Mechanosensitive Potassium Channel Formed by<br>Fluorinated Amphiphilic Cyclophane</div>
<div class="t" style="left:574px;top:671px;font-size:8.7px;letter-spacing:-0.28px">Tokyo Institute of Technology</div>
<div class="t" style="left:11.5px;top:677px;font-size:11.5px;color:#8a8a8a">Sato <i>et al.</i> (2022) | <i>Journal of the American Chemical Society</i> | DOI: 10.1021/jacs.2c04118</div>
</body></html>
